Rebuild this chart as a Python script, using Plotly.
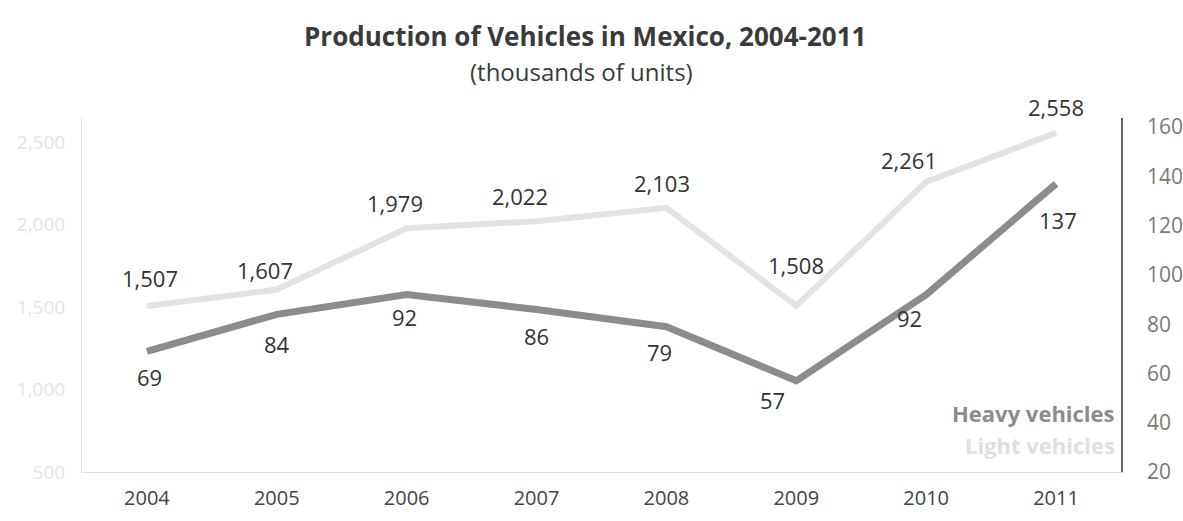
import plotly.graph_objects as go

# Production of vehicles in Mexico (thousands of units)
years = ["2004", "2005", "2006", "2007", "2008", "2009", "2010", "2011"]
light_vehicles = [1507, 1607, 1979, 2022, 2103, 1508, 2261, 2558]
heavy_vehicles = [69, 84, 92, 86, 79, 57, 92, 137]

left_ticks = [500, 1000, 1500, 2000, 2500]
right_ticks = [20, 40, 60, 80, 100, 120, 140, 160]

# label offsets in pixels (dx, dy) relative to each point
light_offsets = [(3, 28), (-12, 20), (-12, 25), (-17, 25), (-4, 25), (0, 41), (-17, 22), (0, 26)]
heavy_offsets = [(3, -26), (0, -30), (-2, -22), (0, -27), (-7, -25), (-24, -19), (-17, -23), (2, -36)]

FONT = "Open Sans"
LIGHT = "#e3e3e3"
HEAVY = "#8c8c8c"

fig = go.Figure()
fig.add_trace(go.Scatter(
    x=years, y=light_vehicles, mode="lines", yaxis="y",
    line=dict(color=LIGHT, width=6), name="Light vehicles", hoverinfo="x+y",
))
fig.add_trace(go.Scatter(
    x=years, y=heavy_vehicles, mode="lines", yaxis="y2",
    line=dict(color=HEAVY, width=7), name="Heavy vehicles", hoverinfo="x+y",
))

annotations = []
# value labels; x given as category index so the numeric-looking names are not misread
for i, (v, (dx, dy)) in enumerate(zip(light_vehicles, light_offsets)):
    annotations.append(dict(
        x=i, y=v, xref="x", yref="y", text=f"{v:,}", showarrow=False,
        xanchor="center", yanchor="middle",
        xshift=dx, yshift=dy, font=dict(family=FONT, size=22, color="#333333"),
    ))
for i, (v, (dx, dy)) in enumerate(zip(heavy_vehicles, heavy_offsets)):
    annotations.append(dict(
        x=i, y=v, xref="x", yref="y2", text=f"{v:,}", showarrow=False,
        xanchor="center", yanchor="middle",
        xshift=dx, yshift=dy, font=dict(family=FONT, size=22, color="#333333"),
    ))

# title and subtitle
annotations.append(dict(
    x=0.484, y=1.2316, xref="paper", yref="paper", showarrow=False,
    xanchor="center", yanchor="middle",
    text="<b>Production of Vehicles in Mexico, 2004-2011</b>",
    font=dict(family=FONT, size=26, color="#3a3a3a"),
))
annotations.append(dict(
    x=0.481, y=1.130, xref="paper", yref="paper", showarrow=False,
    xanchor="center", yanchor="middle",
    text="(thousands of units)",
    font=dict(family=FONT, size=24, color="#3a3a3a"),
))

# series key in the lower right corner
annotations.append(dict(
    x=0.996, y=0.167, xref="paper", yref="paper", showarrow=False,
    xanchor="right", yanchor="middle", text="<b>Heavy vehicles</b>",
    font=dict(family=FONT, size=22, color=HEAVY),
))
annotations.append(dict(
    x=0.996, y=0.076, xref="paper", yref="paper", showarrow=False,
    xanchor="right", yanchor="middle", text="<b>Light vehicles</b>",
    font=dict(family=FONT, size=22, color="#e0e0e0"),
))

fig.update_layout(
    width=1183, height=521,
    margin=dict(l=82, r=62, t=118, b=49),
    paper_bgcolor="white", plot_bgcolor="white",
    showlegend=False,
    font=dict(family=FONT),
    xaxis=dict(
        type="category", range=[-0.5, 7.5], automargin=False,
        showgrid=False, zeroline=False,
        showline=True, linecolor="#dddddd", linewidth=1,
        ticks="", ticklabelstandoff=8,
        tickfont=dict(family=FONT, size=20, color="#444444"),
    ),
    yaxis=dict(
        range=[500, 2648], tickvals=left_ticks, tickformat=",", automargin=False,
        showgrid=False, zeroline=False,
        showline=True, linecolor="#e6e6e6", linewidth=1,
        ticks="", ticklabelstandoff=12,
        tickfont=dict(family=FONT, size=19, color="#e4e4e4"),
    ),
    yaxis2=dict(
        overlaying="y", side="right", automargin=False,
        range=[20, 163.7], tickvals=right_ticks,
        showgrid=False, zeroline=False,
        showline=True, linecolor="#666666", linewidth=1.5,
        ticks="outside", ticklen=8, tickcolor="rgba(0,0,0,0)",
        ticklabelstandoff=12,
        tickfont=dict(family=FONT, size=21, color="#7a7a7a"),
    ),
    annotations=annotations,
)

fig.write_html("out.html")
